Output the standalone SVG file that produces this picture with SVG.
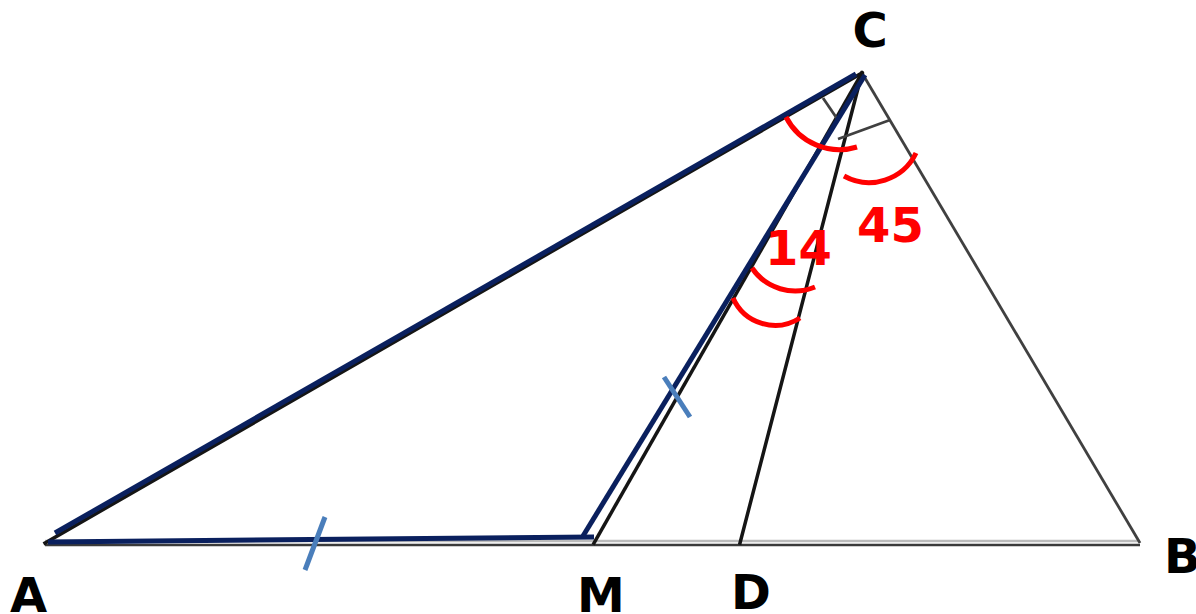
<svg xmlns="http://www.w3.org/2000/svg" width="1196" height="614" viewBox="0 0 1196 614">
<style>
.blk{stroke:#151515;stroke-width:3.5;fill:none;stroke-linecap:square}
.gry{stroke:#404040;stroke-width:2.8;fill:none}
.navy{stroke:#0a205e;stroke-width:5;fill:none;stroke-linecap:butt}
.tick{stroke:#4a7ebb;stroke-width:5;fill:none}
.arc{stroke:#ff0000;stroke-width:5;fill:none}
.lbl{font-family:"DejaVu Sans",Verdana,sans-serif;font-weight:bold;font-size:48px;fill:#000}
.num{font-family:"DejaVu Sans",Verdana,sans-serif;font-weight:bold;font-size:48px;fill:#ff0000}
</style>
<rect width="1196" height="614" fill="#fff"/>
<g id="connectors">
  <line x1="45" y1="541" x2="1140" y2="541" stroke="#bbbbbb" stroke-width="2.5"/>
  <line x1="45" y1="545" x2="1140" y2="545" stroke="#3a3a3a" stroke-width="2.5"/>
  <line class="blk" x1="45" y1="543" x2="862" y2="73"/>
  <line class="gry" x1="862" y1="73" x2="1140" y2="543"/>
  <line class="blk" x1="862" y1="73" x2="594" y2="543"/>
  <line class="blk" x1="862" y1="73" x2="740" y2="543"/>
  <line class="gry" x1="823" y1="98" x2="838" y2="120"/>
  <line class="gry" x1="838" y1="139" x2="890" y2="120"/>
  <line class="navy" x1="55" y1="533" x2="856" y2="74"/>
  <line class="navy" x1="865" y1="75" x2="583" y2="536"/>
  <line class="navy" x1="48" y1="542" x2="594" y2="537"/>
  <line class="tick" x1="325" y1="517" x2="305" y2="570"/>
  <line class="tick" x1="664" y1="377" x2="690" y2="417"/>
  <path class="arc" d="M786,117 A60,60 0 0 0 857,147"/>
  <path class="arc" d="M844,176 A52,52 0 0 0 916,153"/>
  <path class="arc" d="M752,268 A52,52 0 0 0 815,287"/>
  <path class="arc" d="M733,298 A46,46 0 0 0 800,318"/>
</g>
<g id="node-A"><text class="lbl" x="10" y="612">A</text></g>
<g id="node-B"><text class="lbl" x="1164" y="573">B</text></g>
<g id="node-C"><text class="lbl" x="870" y="47" text-anchor="middle">C</text></g>
<g id="node-M"><text class="lbl" x="577" y="612">M</text></g>
<g id="node-D"><text class="lbl" x="731" y="609">D</text></g>
<g id="label-14"><text class="num" x="765" y="265">14</text></g>
<g id="label-45"><text class="num" x="857" y="242">45</text></g>
</svg>
